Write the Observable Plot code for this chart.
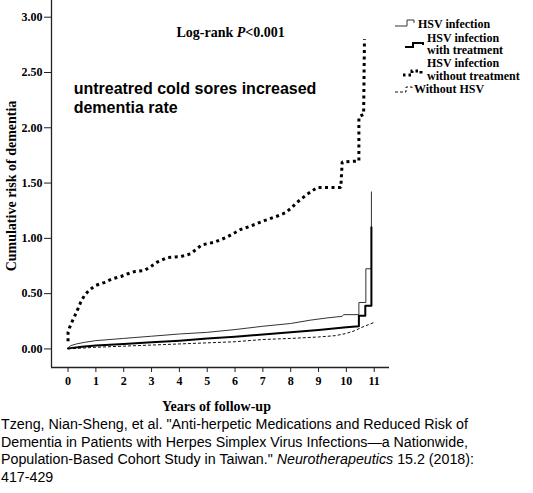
<!DOCTYPE html>
<html>
<head>
<meta charset="utf-8">
<script src="https://cdn.jsdelivr.net/npm/d3@7"></script>
<script src="https://cdn.jsdelivr.net/npm/@observablehq/plot@0.6"></script>
<style>
  body { margin: 0; background: #fff; }
  #wrap { position: relative; width: 533px; }
  .legend { position: absolute; font: bold 12px "Liberation Serif", serif; line-height: 12.7px; color: #000; }
  .legend svg { position: absolute; overflow: visible; }
  #caption { font: 14.25px "Liberation Sans", Arial, sans-serif; line-height: 17.5px; color: #000; padding-left: 1px; margin-top: 2px; }
</style>
</head>
<body>
<div id="wrap">
  <div id="chart"></div>
  <div id="caption">Tzeng, Nian-Sheng, et al. "Anti-herpetic Medications and Reduced Risk of<br>Dementia in Patients with Herpes Simplex Virus Infections—a Nationwide,<br>Population-Based Cohort Study in Taiwan." <i>Neurotherapeutics</i> 15.2 (2018):<br>417-429</div>
</div>
<script>
// Kaplan-Meier style cumulative risk curves.
// Repeated times mark the vertical jumps of the step function.
const untreatedT = [0, 0, 0.05, 0.15, 0.3, 0.45, 0.6, 0.8, 1.0, 1.3, 1.6, 1.9, 2.15, 2.4, 2.75, 3.0, 3.2, 3.55, 4.05, 4.4, 4.6, 4.8, 5.25, 5.7, 6.2, 6.55, 7.05, 7.5, 7.8, 8.0, 8.25, 8.6, 8.95, 9.8, 9.85, 10.45, 10.45, 10.62, 10.65];
const untreatedV = [0.07, 0.15, 0.19, 0.25, 0.33, 0.42, 0.49, 0.54, 0.575, 0.60, 0.635, 0.655, 0.68, 0.70, 0.71, 0.75, 0.785, 0.825, 0.835, 0.86, 0.90, 0.94, 0.965, 1.01, 1.08, 1.11, 1.16, 1.20, 1.23, 1.27, 1.33, 1.40, 1.46, 1.46, 1.69, 1.70, 2.10, 2.12, 2.80];

const hsvT = [0, 0.1, 0.3, 0.6, 1, 2, 3, 4, 5, 6, 7, 8, 8.7, 9.3, 9.85, 9.9, 10.45, 10.45, 10.7, 10.7, 10.9, 10.9];
const hsvV = [0.01, 0.03, 0.045, 0.06, 0.075, 0.095, 0.115, 0.135, 0.15, 0.175, 0.205, 0.23, 0.26, 0.28, 0.295, 0.31, 0.31, 0.42, 0.42, 0.725, 0.725, 1.42];

const treatedT = [0, 0.5, 1, 2, 3, 4, 5, 6, 7, 8, 9, 10, 10.45, 10.45, 10.68, 10.68, 10.9, 10.9];
const treatedV = [0.005, 0.02, 0.03, 0.045, 0.06, 0.075, 0.095, 0.11, 0.13, 0.15, 0.172, 0.195, 0.205, 0.30, 0.30, 0.39, 0.39, 1.10];

const noHsvT = [0, 1, 2, 3, 4, 5, 6, 7, 8, 9, 9.6, 10, 10.3, 10.6, 10.8, 11];
const noHsvV = [0, 0.015, 0.025, 0.035, 0.045, 0.055, 0.065, 0.085, 0.095, 0.108, 0.12, 0.14, 0.165, 0.20, 0.22, 0.24];

const xTicks = [0, 1, 2, 3, 4, 5, 6, 7, 8, 9, 10, 11];
const yTicks = [0, 0.5, 1, 1.5, 2, 2.5, 3];

const xDomain = [-0.595, 11.55];
const yDomain = [-0.168, 3.151];

const zip = (ts, vs) => ts.map((t, i) => ({ t, v: vs[i] }));

const plot = Plot.plot({
  width: 533,
  height: 414,
  marginLeft: 51,
  marginRight: 533 - 389,
  marginTop: 0,
  marginBottom: 414 - 367,
  style: { fontFamily: "Liberation Serif, serif", fontWeight: "bold", fontSize: "12px", color: "#000", background: "#fff" },
  x: { domain: xDomain },
  y: { domain: yDomain },
  marks: [
    Plot.axisX({ ticks: xTicks, tickSize: 5, tickPadding: 4, tickFormat: (d) => d, label: null, stroke: "#222" }),
    Plot.axisY({ ticks: yTicks, tickSize: 7, tickPadding: 2, tickFormat: d3.format(".2f"), label: null, stroke: "#222" }),
    Plot.ruleX([xDomain[0]], { stroke: "#222", strokeWidth: 1.3 }),
    Plot.ruleY([yDomain[0]], { stroke: "#222", strokeWidth: 1.3 }),
    Plot.line(zip(noHsvT, noHsvV), { x: "t", y: "v", stroke: "#111", strokeWidth: 1, strokeDasharray: "3,2", strokeLinecap: "butt" }),
    Plot.line(zip(hsvT, hsvV), { x: "t", y: "v", stroke: "#333", strokeWidth: 1 }),
    Plot.line(zip(treatedT, treatedV), { x: "t", y: "v", stroke: "#000", strokeWidth: 2 }),
    Plot.line(zip(untreatedT, untreatedV), { x: "t", y: "v", stroke: "#000", strokeWidth: 3, strokeDasharray: "3,3.5", strokeLinecap: "butt", strokeLinejoin: "miter" }),
    Plot.text(["Log-rank P<0.001"], { x: 5.84, y: 2.862, fontSize: 14, fill: "#000" }),
    Plot.text(["untreatred cold sores increased\ndementia rate"], {
      x: 0.2, y: 2.274, textAnchor: "start", lineHeight: 1.21,
      fontFamily: "Liberation Sans, Arial, sans-serif", fontSize: 16, fontWeight: "bold", fill: "#000"
    }),
    Plot.text(["Years of follow-up"], { frameAnchor: "bottom", lineAnchor: "middle", dy: 39, dx: -4, fontSize: 14, fill: "#000" }),
    Plot.text(["Cumulative risk of dementia"], { frameAnchor: "left", textAnchor: "middle", lineAnchor: "middle", dx: -40, dy: 2, rotate: -90, fontSize: 14, fill: "#000" })
  ]
});

// italic P in the log-rank annotation
d3.select(plot).selectAll("text")
  .filter(function () { return this.textContent === "Log-rank P<0.001"; })
  .each(function () {
    const t = d3.select(this).text(null);
    t.append("tspan").text("Log-rank ");
    t.append("tspan").attr("font-style", "italic").text("P");
    t.append("tspan").text("<0.001");
  });

document.getElementById("chart").appendChild(plot);

// legend, placed like the original's box to the right of the plot
const legendItems = [
  { lines: ["HSV infection"], top: 18, textLeft: 418, iconLeft: 395, icon: "M0,8 H12 V2 H19 V5", stroke: "#333", width: 1, dash: null },
  { lines: ["HSV infection", "with treatment"], top: 31.5, textLeft: 427, iconLeft: 405, icon: "M0,15 H8 V11 H18 V13", stroke: "#000", width: 2, dash: null },
  { lines: ["HSV infection", "without treatment"], top: 57, textLeft: 427, iconLeft: 403, icon: "M0,18 H9 V14 H18 V19", stroke: "#000", width: 3, dash: "2.5,3" },
  { lines: ["Without HSV"], top: 83, textLeft: 414, iconLeft: 395, icon: "M0,9 H11 V4 H17 V7", stroke: "#111", width: 1, dash: "3,2" }
];
const wrap = document.getElementById("wrap");
for (const item of legendItems) {
  const div = document.createElement("div");
  div.className = "legend";
  div.style.left = item.textLeft + "px";
  div.style.top = item.top + "px";
  div.innerHTML = item.lines.join("<br>");
  wrap.appendChild(div);
  const svg = d3.create("svg")
    .attr("width", 20).attr("height", 24)
    .style("position", "absolute")
    .style("left", item.iconLeft + "px")
    .style("top", item.top + "px");
  svg.append("path")
    .attr("d", item.icon)
    .attr("fill", "none")
    .attr("stroke", item.stroke)
    .attr("stroke-width", item.width)
    .attr("stroke-dasharray", item.dash);
  wrap.appendChild(svg.node());
}
</script>
</body>
</html>
